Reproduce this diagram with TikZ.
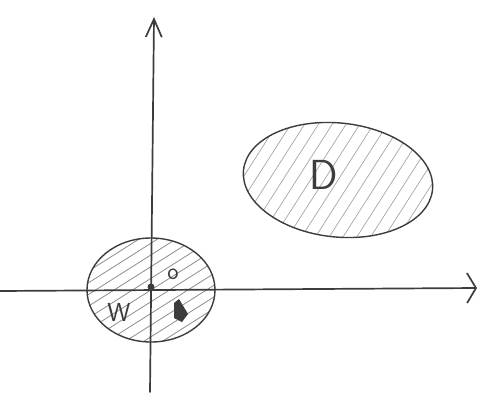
\documentclass[tikz,border=0pt]{standalone}
\usepackage{tikz}
\usetikzlibrary{arrows.meta,calc}
\definecolor{pencil}{RGB}{60,60,60}
\definecolor{hatchgray}{RGB}{140,140,140}
\definecolor{lighthatch}{RGB}{165,165,165}

\begin{document}
\begin{tikzpicture}[x=1pt,y=-1pt,
  axis/.style={pencil, line width=1.7pt, line cap=round},
  rim/.style={pencil, line width=1.4pt},
  hatch/.style={hatchgray, line width=0.8pt},
  label/.style={pencil, inner sep=0pt, font=\sffamily}]

\useasboundingbox (0,0) rectangle (497,404);

% the two sets
\begin{scope}
  \clip (151,290) ellipse [x radius=64, y radius=52];
  \foreach \k in {-14,...,14}
    \draw[hatch] ($(151,290)+(\k*9,\k*6)+(-90,57)$) -- ++(180,-114);
\end{scope}
\draw[rim] (151,290) ellipse [x radius=64, y radius=52];

\begin{scope}[rotate around={-6:(338,180)}]
  \clip (338,180) ellipse [x radius=95, y radius=57];
  \foreach \k in {-12,...,12}
    \draw[lighthatch, line width=0.7pt] ($(338,180)+(\k*13,0)+(-40,80)$) -- ++(80,-160);
\end{scope}
\draw[rim, rotate around={-6:(338,180)}] (338,180) ellipse [x radius=95, y radius=57];

% axes
\coordinate (xs) at (0,291);
\coordinate (xe) at (477,288);
\coordinate (ys) at (150,392);
\coordinate (ye) at (154,17);
\draw[axis, -{Straight Barb[length=9pt,width=30pt]}] (xs) -- (xe);
\draw[axis, -{Straight Barb[length=18pt,width=16pt]}] (ys) -- (ye);

% labels
\node[label, font=\sffamily\fontsize{42}{42}\selectfont] (Dlab) at (324,175) {D};
\node[label, font=\sffamily\fontsize{26}{26}\selectfont] (Wlab) at (119,312) {W};
\node[label, font=\sffamily\fontsize{24}{24}\selectfont] (olab) at (173,274) {o};
\fill[pencil] (151,287) circle [radius=3.5];
\fill[pencil] (174,303) -- (179,299) -- (188,314) -- (182,322) -- (174,318) -- cycle;

\end{tikzpicture}
\end{document}
